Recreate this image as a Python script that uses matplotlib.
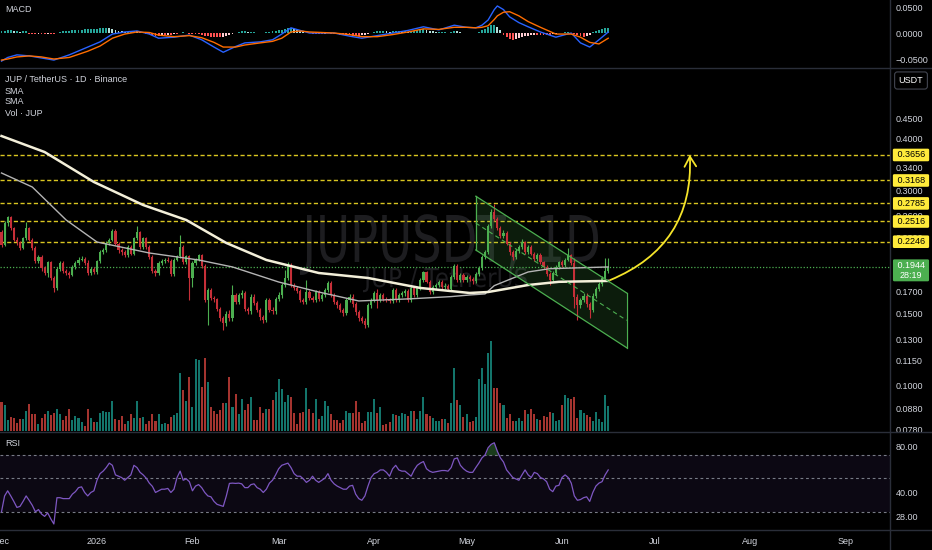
import numpy as np
import pandas as pd
import matplotlib
matplotlib.use("Agg")
import matplotlib.pyplot as plt
import matplotlib.dates as mdates
from matplotlib.ticker import FixedLocator, FixedFormatter, NullLocator
from matplotlib.transforms import blended_transform_factory, Affine2D
from matplotlib.textpath import TextPath
from matplotlib.patches import PathPatch, Polygon
from matplotlib.font_manager import FontProperties
from matplotlib.lines import Line2D

plt.rcParams['font.family'] = ['Liberation Sans', 'DejaVu Sans']

# ---- JUP / USDT daily candles ----
start_date = '2025-12-01'
first_open = 0.237
close = [
    0.221, 0.249, 0.258, 0.242, 0.227, 0.224, 0.217, 0.229, 0.242, 0.227,
    0.217, 0.201, 0.2065, 0.1935, 0.188, 0.200, 0.183, 0.1728, 0.193, 0.199,
    0.190, 0.188, 0.186, 0.195, 0.199, 0.203, 0.204, 0.199, 0.188, 0.193,
    0.189, 0.201, 0.212, 0.2144, 0.2226, 0.227, 0.239, 0.222, 0.214, 0.212,
    0.208, 0.218, 0.210, 0.229, 0.237, 0.218, 0.229, 0.218, 0.2065, 0.190,
    0.188, 0.199, 0.201, 0.203, 0.202, 0.187, 0.203, 0.207, 0.218, 0.200,
    0.207, 0.183, 0.199, 0.203, 0.208, 0.196, 0.162, 0.171, 0.164, 0.1625,
    0.154, 0.146, 0.142, 0.150, 0.146, 0.1665, 0.160, 0.1665, 0.168, 0.154,
    0.152, 0.165, 0.159, 0.153, 0.1475, 0.1447, 0.162, 0.153, 0.152, 0.163,
    0.1665, 0.176, 0.183, 0.197, 0.176, 0.173, 0.170, 0.162, 0.160, 0.1695,
    0.164, 0.162, 0.169, 0.163, 0.1665, 0.1712, 0.178, 0.1665, 0.160, 0.157,
    0.153, 0.1505, 0.1619, 0.165, 0.158, 0.151, 0.146, 0.144, 0.1406, 0.1574,
    0.1619, 0.168, 0.1619, 0.1665, 0.163, 0.162, 0.161, 0.1712, 0.1619, 0.1665,
    0.168, 0.170, 0.162, 0.173, 0.1665, 0.173, 0.181, 0.189, 0.1795, 0.169,
    0.1745, 0.176, 0.179, 0.1745, 0.1755, 0.172, 0.1845, 0.196, 0.181, 0.186,
    0.181, 0.184, 0.182, 0.180, 0.187, 0.194, 0.206, 0.212, 0.245, 0.265,
    0.255, 0.243, 0.232, 0.236, 0.222, 0.212, 0.206, 0.213, 0.218, 0.224,
    0.212, 0.218, 0.210, 0.204, 0.209, 0.200, 0.195, 0.187, 0.181, 0.188,
    0.195, 0.200, 0.197, 0.203, 0.208, 0.199, 0.165, 0.157, 0.162, 0.166,
    0.158, 0.153, 0.166, 0.172, 0.177, 0.183, 0.190, 0.1944,
]
high = [
    0.240, 0.252, 0.260, 0.259, 0.244, 0.231, 0.226, 0.231, 0.251, 0.244,
    0.229, 0.219, 0.209, 0.208, 0.196, 0.202, 0.202, 0.185, 0.195, 0.201,
    0.201, 0.193, 0.190, 0.197, 0.201, 0.206, 0.207, 0.206, 0.203, 0.195,
    0.195, 0.203, 0.214, 0.217, 0.225, 0.229, 0.241, 0.241, 0.224, 0.217,
    0.214, 0.220, 0.220, 0.231, 0.245, 0.239, 0.231, 0.231, 0.220, 0.208,
    0.193, 0.201, 0.204, 0.205, 0.206, 0.204, 0.205, 0.209, 0.233, 0.220,
    0.209, 0.209, 0.201, 0.205, 0.210, 0.210, 0.198, 0.173, 0.173, 0.166,
    0.164, 0.156, 0.148, 0.152, 0.153, 0.176, 0.168, 0.168, 0.171, 0.170,
    0.156, 0.167, 0.167, 0.161, 0.155, 0.149, 0.164, 0.164, 0.156, 0.165,
    0.169, 0.178, 0.1916, 0.200, 0.199, 0.178, 0.175, 0.172, 0.164, 0.181,
    0.171, 0.166, 0.171, 0.171, 0.168, 0.173, 0.180, 0.180, 0.168, 0.162,
    0.159, 0.155, 0.164, 0.167, 0.167, 0.160, 0.153, 0.148, 0.146, 0.159,
    0.164, 0.170, 0.172, 0.168, 0.168, 0.165, 0.164, 0.173, 0.173, 0.168,
    0.170, 0.172, 0.172, 0.175, 0.175, 0.175, 0.183, 0.191, 0.191, 0.181,
    0.176, 0.178, 0.181, 0.181, 0.178, 0.177, 0.186, 0.198, 0.198, 0.188,
    0.188, 0.186, 0.186, 0.184, 0.189, 0.196, 0.208, 0.2144, 0.248, 0.270,
    0.277, 0.258, 0.246, 0.240, 0.238, 0.224, 0.214, 0.216, 0.220, 0.228,
    0.226, 0.220, 0.220, 0.212, 0.211, 0.211, 0.202, 0.197, 0.189, 0.190,
    0.197, 0.202, 0.203, 0.205, 0.217, 0.210, 0.205, 0.167, 0.164, 0.168,
    0.168, 0.160, 0.168, 0.174, 0.179, 0.185, 0.205, 0.205,
]
low = [
    0.218, 0.219, 0.246, 0.240, 0.225, 0.221, 0.214, 0.215, 0.227, 0.225,
    0.214, 0.199, 0.199, 0.191, 0.186, 0.184, 0.181, 0.169, 0.171, 0.191,
    0.188, 0.186, 0.183, 0.185, 0.193, 0.197, 0.201, 0.197, 0.186, 0.186,
    0.187, 0.187, 0.199, 0.210, 0.212, 0.220, 0.225, 0.220, 0.211, 0.209,
    0.206, 0.206, 0.208, 0.208, 0.227, 0.216, 0.216, 0.216, 0.204, 0.188,
    0.185, 0.186, 0.197, 0.199, 0.200, 0.185, 0.185, 0.201, 0.205, 0.198,
    0.198, 0.162, 0.174, 0.197, 0.201, 0.194, 0.160, 0.1406, 0.162, 0.160,
    0.152, 0.144, 0.1367, 0.140, 0.144, 0.144, 0.158, 0.158, 0.164, 0.152,
    0.150, 0.150, 0.157, 0.151, 0.145, 0.142, 0.143, 0.151, 0.150, 0.150,
    0.161, 0.164, 0.174, 0.181, 0.174, 0.171, 0.168, 0.160, 0.158, 0.158,
    0.162, 0.160, 0.160, 0.161, 0.161, 0.165, 0.169, 0.165, 0.158, 0.155,
    0.151, 0.148, 0.149, 0.160, 0.156, 0.149, 0.144, 0.142, 0.138, 0.139,
    0.155, 0.160, 0.155, 0.160, 0.161, 0.160, 0.159, 0.159, 0.160, 0.160,
    0.165, 0.166, 0.160, 0.160, 0.165, 0.165, 0.171, 0.179, 0.178, 0.167,
    0.167, 0.172, 0.174, 0.172, 0.172, 0.170, 0.170, 0.182, 0.179, 0.179,
    0.179, 0.179, 0.180, 0.177, 0.178, 0.185, 0.192, 0.204, 0.210, 0.242,
    0.252, 0.240, 0.229, 0.229, 0.220, 0.209, 0.203, 0.204, 0.211, 0.216,
    0.210, 0.210, 0.208, 0.202, 0.202, 0.198, 0.193, 0.185, 0.176, 0.179,
    0.186, 0.193, 0.195, 0.195, 0.201, 0.197, 0.155, 0.145, 0.155, 0.160,
    0.156, 0.146, 0.151, 0.164, 0.170, 0.175, 0.181, 0.188,
]
# volume, 100k JUP
volume = [
    88, 78, 33, 41, 38, 23, 35, 35, 60, 81,
    51, 51, 20, 38, 50, 61, 48, 53, 67, 51,
    33, 45, 65, 33, 45, 38, 28, 15, 67, 38,
    27, 26, 53, 59, 57, 57, 89, 35, 33, 45,
    21, 30, 51, 38, 89, 38, 41, 20, 30, 50,
    30, 50, 20, 25, 20, 41, 47, 53, 175, 123,
    90, 162, 71, 215, 213, 131, 220, 147, 73, 61,
    50, 63, 83, 85, 161, 71, 111, 51, 95, 63,
    81, 102, 33, 34, 71, 53, 67, 65, 93, 118,
    157, 127, 87, 108, 102, 55, 20, 55, 57, 128,
    67, 53, 96, 35, 45, 91, 75, 50, 33, 33,
    25, 33, 60, 53, 53, 91, 57, 25, 31, 56,
    56, 96, 55, 71, 18, 20, 26, 50, 47, 45,
    55, 50, 45, 60, 60, 35, 60, 101, 51, 45,
    40, 30, 30, 35, 35, 23, 83, 188, 93, 78,
    41, 50, 28, 30, 41, 155, 190, 140, 235, 270,
    129, 129, 83, 78, 40, 50, 30, 30, 38, 30,
    63, 51, 65, 51, 35, 33, 45, 41, 57, 53,
    30, 33, 78, 108, 98, 96, 101, 40, 63, 55,
    48, 41, 30, 56, 36, 26, 108, 76,
]
rsi = [
    30, 38, 41, 38, 35, 32, 32.5, 35, 38, 35.5,
    33, 30, 31, 29, 28, 29.5, 27, 25, 37, 37,
    36.5, 36.5, 36.5, 39, 40.5, 43, 43.5, 40, 38, 40,
    41, 48, 53, 55, 58, 62, 60, 52, 51, 50,
    48, 50, 52, 60, 58, 54, 52, 49.5, 46, 43.8,
    40, 41, 42, 42, 42.5, 40, 42, 50, 55, 48,
    49, 47, 41, 44, 45, 43, 40, 38, 37.5, 35,
    33.5, 33, 32.5, 38, 45.8, 46, 45.8, 46, 45.5, 43,
    43, 45, 45.5, 43, 42, 40, 42, 46, 48, 52,
    57, 60, 61, 62, 58, 53, 51, 51, 49, 46.5,
    48, 51, 48, 46.5, 48, 49.5, 53, 48, 45.5, 44,
    43, 42, 42, 44, 44.5, 39, 36.5, 35.6, 38, 44,
    50, 53, 54, 56, 56, 54, 51, 57, 60, 56,
    55, 55, 53, 51, 56, 60, 62, 63.5, 57, 55,
    54, 54.5, 55, 55.5, 55.5, 55, 58, 66, 67, 60,
    57, 55, 54, 54, 58, 62, 67, 70, 78, 82,
    84, 74, 67, 63, 56, 53, 50, 49, 48, 52,
    56, 52, 50, 54, 53, 50, 49, 47, 42, 40.5,
    44, 44.5, 50, 52, 50, 46, 38, 35.6, 36, 37,
    37.5, 35, 40, 44, 46, 47, 52, 56,
]
# MACD histogram, x 0.001
macd_hist = [
    3, 3, 5, 5, 3, 3, 2, 3, 3,
    -1, -2, -2, -1, -2, -2, -1, -1, -2,
    1, 2, 3, 4, 4, 5, 5, 5, 6, 7, 7,
    7, 8, 8, 9, 9, 10, 9, 8,
    6, 4, 3, 2, 2, 3, 4, 3,
    2, 1, -1, -2, -4, -5, -5, -4, -4, -3, -3, -2, -2,
    1, 2, 1, -1, -1,
    -2, -2, -3, -5, -6, -7, -8, -8, -8, -7, -6, -4, -2,
    1, 2, 3, 3, 2, 2, 2, 1, 1, 1, 2, 2, 3, 4, 5,
    6, 8, 9, 9, 7, 5,
    3, 2, 1, 0.5, -1, -1, -2, -2, -1, 0.5, -1, -2, -2, -3,
    -4, -4, -4, -5, -5, -5, -4, -3, -2, 0.5,
    2, 3, 3, 4, 3, 2, 3, 4, 4, 3, 3, 2, 3, 4, 5, 6, 7, 6, 4, 3,
    2, 2, 2, 2, 1, 2, 4, 3, 2, 1, 1, 0.5, 0.5, 1, 2,
    5, 8, 12, 15, 15, 12,
    5, -3, -8, -12, -13, -12, -10, -8, -6,
    -5, -4, -3, -3, -3, -3, -4, -4,
    -2, -1, 0.5, 1, 2, 2, 1, -2, -4, -6,
    -7, -6, -3, 2, 4,
    6, 8, 9, 10,
]
macd_days = [0, 2, 5, 9, 13, 17, 22, 28, 32, 36, 40, 44, 48, 51, 56, 61, 65, 69, 72, 76,
             79, 84, 88, 91, 94, 97, 100, 104, 108, 113, 117, 122, 127, 132, 137, 142, 147, 151, 154, 156,
             158, 160, 161, 163, 165, 168, 171, 175, 180, 185, 188, 191, 194, 197]
macd_line = [-0.054, -0.047, -0.042, -0.044, -0.048, -0.052, -0.042, -0.027, -0.017, -0.002,
             0.002, 0.004, -0.002, -0.010, -0.008, -0.004, -0.013, -0.027, -0.037, -0.026,
             -0.019, -0.017, -0.013, -0.002, 0.010, 0.005, 0.000, 0.000, 0.000, -0.006,
             -0.010, -0.005, 0.000, 0.005, 0.012, 0.006, 0.015, 0.011, 0.010, 0.015,
             0.025, 0.045, 0.052, 0.045, 0.031, 0.020, 0.012, 0.002, -0.008, 0.000,
             -0.019, -0.027, -0.013, 0.002]
signal_line = [-0.052, -0.050, -0.046, -0.044, -0.046, -0.050, -0.047, -0.035, -0.025, -0.010,
               -0.002, 0.002, 0.001, -0.004, -0.007, -0.005, -0.009, -0.018, -0.027, -0.027,
               -0.023, -0.019, -0.016, -0.010, 0.002, 0.004, 0.002, 0.001, 0.000, -0.003,
               -0.007, -0.007, -0.003, 0.002, 0.008, 0.007, 0.011, 0.011, 0.010, 0.011,
               0.014, 0.026, 0.033, 0.040, 0.041, 0.033, 0.022, 0.011, -0.002, -0.002,
               -0.008, -0.018, -0.021, -0.010]
sma_long_days = [0, 14, 30, 46, 60, 73, 86, 103, 119, 136, 152, 158, 171, 181, 197]
sma_long = [0.4067, 0.3717, 0.3141, 0.276, 0.2537, 0.223, 0.2027, 0.1884, 0.1832, 0.1732,
            0.1684, 0.1693, 0.1761, 0.1793, 0.1802]
sma_short_days = [0, 10, 21, 31, 48, 64, 75, 90, 103, 116, 133, 146, 152, 157, 160, 171, 178, 197]
sma_short = [0.3304, 0.3054, 0.2537, 0.2242, 0.2108, 0.2027, 0.1949, 0.1791, 0.1693, 0.161,
             0.163, 0.165, 0.1665, 0.1675, 0.1755, 0.1895, 0.193, 0.1949]

levels = [0.3656, 0.3168, 0.2785, 0.2516, 0.2246]
last_price = 0.1944
countdown = '28:19'
channel_days = [154, 203]
channel_upper = [0.290, 0.1684]
channel_lower = [0.2144, 0.1238]
arrow_from = (197.6, 0.181)
arrow_to = (223.5, 0.366)

price_ticks = [0.45, 0.40, 0.34, 0.30, 0.26, 0.23, 0.20, 0.17, 0.15, 0.13, 0.115, 0.10, 0.088, 0.078]
macd_ticks = [0.05, 0.0, -0.05]
macd_tick_labels = ['0.0500', '0.0000', '\u22120.0500']
rsi_ticks = [80, 40, 28]
month_starts = ['2025-12-01', '2026-01-01', '2026-02-01', '2026-03-01', '2026-04-01',
                '2026-05-01', '2026-06-01', '2026-07-01', '2026-08-01', '2026-09-01']
month_labels = ['Dec', '2026', 'Feb', 'Mar', 'Apr', 'May', 'Jun', 'Jul', 'Aug', 'Sep']

# ---- style ----
BG = '#000000'
TXT = '#d1d4dc'
SEP = '#2a2e39'
UP, DOWN = '#4caf50', '#c62f38'
VUP, VDOWN = '#13756b', '#a5342f'
YEL = '#d9c521'
FS = 6.5

W, H = 932, 550
RIGHT = 890
fig = plt.figure(figsize=(W / 100, H / 100), dpi=100, facecolor=BG)


def add_ax(top, bottom, **kw):
    a = fig.add_axes([0, 1 - bottom / H, RIGHT / W, (bottom - top) / H], **kw)
    a.set_facecolor('none')
    for s in a.spines.values():
        s.set_visible(False)
    return a


def ftext(x, y, s, **kw):
    kw.setdefault('color', TXT)
    kw.setdefault('fontsize', FS)
    return fig.text(x / W, 1 - y / H, s, **kw)


def watermark(s, x0, x1, cap_top, baseline, color):
    fp = FontProperties(family='DejaVu Sans')
    tp = TextPath((0, 0), s, size=1, prop=fp)
    bb = tp.get_extents()
    cap = TextPath((0, 0), 'H', size=1, prop=fp).get_extents().height
    tr = Affine2D().translate(-bb.x0, 0).scale((x1 - x0) / bb.width, (baseline - cap_top) / cap) \
        .translate(x0, H - baseline)
    fig.add_artist(PathPatch(tp, transform=tr, facecolor=color, edgecolor='none', zorder=-1))


dates = pd.date_range(start_date, periods=len(close), freq='D')
x = mdates.date2num(dates)
x0 = x[0]
close = np.array(close)
opens = np.r_[first_open, close[:-1]]
up = close >= opens
ccol = np.where(up, UP, DOWN)

ax_m = add_ax(0, 67.5)
ax_v = add_ax(69, 431, sharex=ax_m)
ax_p = add_ax(69, 431, sharex=ax_m)
ax_r = add_ax(432.5, 530, sharex=ax_m)

watermark('JUPUSDT, 1D', 300, 598, 215, 262, '#1d1d20')
watermark('JUP / TetherUS', 363, 527, 268, 287, '#1d1d20')

# volume
ax_v.bar(x, volume, width=0.66, color=np.where(up, VUP, VDOWN), linewidth=0)
ax_v.set_ylim(0, 1086)
ax_v.axis('off')

# price pane
ax_p.set_yscale('log')
ax_p.set_ylim(0.07755, 0.5926)
ax_p.vlines(x, low, high, colors=ccol, lw=0.8, zorder=4)
ax_p.bar(x, np.maximum(np.abs(close - opens), 0.0006), bottom=np.minimum(opens, close),
         width=0.7, color=ccol, linewidth=0, zorder=5)
ax_p.plot(x0 + np.array(sma_short_days), sma_short, color='#b4b4b4', lw=1.0, zorder=6)
ax_p.plot(x0 + np.array(sma_long_days), sma_long, color='#f3efd9', lw=1.8, zorder=6)

for lv in levels:
    ax_p.axhline(lv, color=YEL, lw=1.0, dashes=(3, 1.8), zorder=2)
ax_p.axhline(last_price, color='#4caf50', lw=0.9, dashes=(1, 1.5), zorder=2)

cx = x0 + np.array(channel_days)
chan = Polygon([(cx[0], channel_upper[0]), (cx[1], channel_upper[1]),
                (cx[1], channel_lower[1]), (cx[0], channel_lower[0])],
               closed=True, facecolor='#4caf50', alpha=0.16, edgecolor='none', zorder=3)
ax_p.add_patch(chan)
ax_p.plot(cx, channel_upper, color='#4caf50', lw=0.9, zorder=7)
ax_p.plot(cx, channel_lower, color='#4caf50', lw=0.9, zorder=7)
ax_p.plot([cx[0], cx[0]], [channel_lower[0], channel_upper[0]], color='#4caf50', lw=0.9, zorder=7)
ax_p.plot([cx[1], cx[1]], [channel_lower[1], channel_upper[1]], color='#4caf50', lw=0.9, zorder=7)
mid = np.sqrt(np.array(channel_upper) * np.array(channel_lower))
ax_p.plot(cx, mid, color='#4caf50', lw=0.8, ls=(0, (4, 3)), zorder=7)

ax_p.annotate('', xy=(x0 + arrow_to[0], arrow_to[1]), xytext=(x0 + arrow_from[0], arrow_from[1]),
              arrowprops=dict(arrowstyle='->,head_length=0.6,head_width=0.35', color='#f5e42a', lw=1.3,
                              connectionstyle='arc3,rad=0.35', shrinkA=0, shrinkB=0, mutation_scale=12),
              annotation_clip=False, zorder=8)

ax_p.yaxis.tick_right()
ax_p.yaxis.set_major_locator(FixedLocator(price_ticks))
ax_p.yaxis.set_major_formatter(FixedFormatter(['%.4f' % t for t in price_ticks]))
ax_p.yaxis.set_minor_locator(NullLocator())
ax_p.tick_params(axis='y', which='both', length=0, pad=4.3, labelsize=FS, labelcolor=TXT)
ax_p.tick_params(axis='x', bottom=False, labelbottom=False)

bt = blended_transform_factory(ax_p.transAxes, ax_p.transData)
for lv in levels:
    ax_p.text(911 / RIGHT, lv, ' %.4f ' % lv, transform=bt, ha='center', va='center', fontsize=FS,
              color='black', clip_on=False, zorder=20,
              bbox=dict(boxstyle='round,pad=0.2,rounding_size=0.15', fc='#ffeb3b', ec='none'))
ax_p.annotate(' %.4f \n%s' % (last_price, countdown), xy=(911 / RIGHT, last_price), xycoords=bt,
              xytext=(0, 4.5), textcoords='offset points', ha='center', va='top', fontsize=FS,
              color='white', linespacing=1.05, annotation_clip=False, zorder=20,
              bbox=dict(boxstyle='round,pad=0.2,rounding_size=0.15', fc='#4caf50', ec='none'))

# MACD pane
hist = np.array(macd_hist) * 0.001
hcol = []
for i, hv in enumerate(hist):
    prev = hist[i - 1] if i > 0 else hv
    if hv >= 0:
        hcol.append('#26a69a' if hv >= prev else '#b2dfdb')
    else:
        hcol.append('#ffcdd2' if hv > prev else '#ff5252')
ax_m.bar(x, hist, width=0.62, color=hcol, linewidth=0)
ax_m.plot(x0 + np.array(macd_days), macd_line, color='#2962ff', lw=1)
ax_m.plot(x0 + np.array(macd_days), signal_line, color='#ff6d00', lw=1)
ax_m.set_ylim(-0.0663, 0.0635)
ax_m.yaxis.tick_right()
ax_m.set_yticks(macd_ticks)
ax_m.set_yticklabels(macd_tick_labels)
ax_m.tick_params(axis='y', length=0, pad=4.3, labelsize=FS, labelcolor=TXT)
ax_m.tick_params(axis='x', bottom=False, labelbottom=False)

# RSI pane
rsi = np.array(rsi)
ax_r.set_yscale('log')
ax_r.set_ylim(22.85, 97.9)
ax_r.axhspan(30, 70, color='#7e57c2', alpha=0.1, lw=0)
for lv in (70, 50, 30):
    ax_r.axhline(lv, color='#787b86', lw=0.8, dashes=(2.5, 2.5))
ax_r.fill_between(x, 70, rsi, where=rsi > 70, interpolate=True, color='#4caf50', alpha=0.35, lw=0)
ax_r.plot(x, rsi, color='#7e57c2', lw=0.9)
ax_r.yaxis.tick_right()
ax_r.yaxis.set_major_locator(FixedLocator(rsi_ticks))
ax_r.yaxis.set_major_formatter(FixedFormatter(['%.2f' % t for t in rsi_ticks]))
ax_r.yaxis.set_minor_locator(NullLocator())
ax_r.tick_params(axis='y', which='both', length=0, pad=4.3, labelsize=FS, labelcolor=TXT)
ax_r.set_xticks(mdates.date2num(pd.to_datetime(month_starts)))
ax_r.set_xticklabels(month_labels)
ax_r.tick_params(axis='x', length=0, pad=5, labelsize=FS, labelcolor=TXT)
ax_m.set_xlim(x0 - 0.49, x0 + 288.5)

# titles
ftext(5, 10, 'MACD', va='center')
ftext(5, 80, 'JUP / TetherUS \u00b7 1D \u00b7 Binance', va='center')
ftext(5, 91, 'SMA', va='center')
ftext(5, 102, 'SMA', va='center')
ftext(5, 113, 'Vol \u00b7 JUP', va='center')
ftext(5, 443, 'RSI', va='center')
ftext(911, 80.5, 'USDT', ha='center', va='center', color='white',
      bbox=dict(boxstyle='round,pad=0.45,rounding_size=0.3', fc=BG, ec='#434651', lw=0.8))

# pane separators
for yy in (68, 432, 530):
    fig.add_artist(Line2D([0, 1], [1 - yy / H] * 2, transform=fig.transFigure, color=SEP, lw=1))
fig.add_artist(Line2D([RIGHT / W] * 2, [0, 1], transform=fig.transFigure, color=SEP, lw=1))

fig.savefig('out.png', dpi=100, facecolor=BG)
